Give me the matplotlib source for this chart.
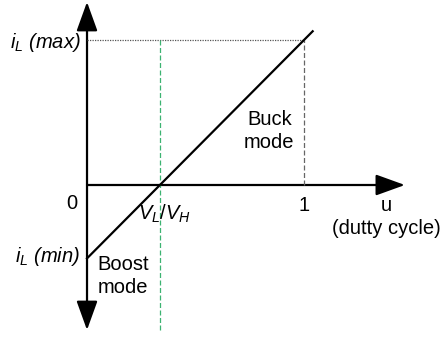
import matplotlib.pyplot as plt
from matplotlib.patches import FancyArrowPatch

plt.rcParams['font.family'] = ['Liberation Sans', 'DejaVu Sans']
plt.rcParams['mathtext.fontset'] = 'custom'
plt.rcParams['mathtext.it'] = 'Liberation Sans:italic'
plt.rcParams['mathtext.rm'] = 'Liberation Sans'

# duty cycle values and inductor current (normalised)
u_ratio = 0.336          # V_L / V_H
u_line = [0.0, 1.04]
i_max = 1.0
i_line = [(u - u_ratio) / (1 - u_ratio) * i_max for u in u_line]
i_min = i_line[0]

fig = plt.figure(figsize=(4.43, 3.37), dpi=100)
ax = fig.add_axes([0, 0, 1, 1])
ax.set_xlim(-0.401, 1.6406)
ax.set_ylim(-1.0483, 1.2759)
ax.axis('off')

fs = 14.5

# axes with arrow heads
ya = FancyArrowPatch((0, -1.0), (0, 1.262), arrowstyle='<|-|>,head_length=18,head_width=6.5',
                     mutation_scale=1, shrinkA=0, shrinkB=0, color='black', lw=1.6)
ax.add_patch(ya)
xa = FancyArrowPatch((0, 0), (1.465, 0), arrowstyle='-|>,head_length=18,head_width=6.5',
                     mutation_scale=1, shrinkA=0, shrinkB=0, color='black', lw=1.6)
ax.add_patch(xa)

# guide lines
ax.plot([0, 1], [i_max, i_max], color='#555555', lw=0.9, ls=(0, (1, 1)))
ax.plot([1, 1], [0, i_max], color='#666666', lw=0.9, ls=(0, (4, 2)))
ax.plot([u_ratio, u_ratio], [-1.0, i_max], color='#3cb371', lw=0.9, ls=(0, (4, 2)))

# inductor current line
ax.plot(u_line, i_line, color='black', lw=1.6)

# labels
ax.text(-0.03, i_max - 0.02, r'$i_L$ (max)', ha='right', va='center', fontsize=fs, style='italic')
ax.text(-0.03, i_min + 0.01, r'$i_L$ (min)', ha='right', va='center', fontsize=fs, style='italic')
ax.text(-0.07, -0.13, '0', ha='center', va='center', fontsize=fs)
ax.text(u_ratio + 0.02, -0.2, r'$V_L/V_H$', ha='center', va='center', fontsize=fs, style='italic')
ax.text(0.05, -0.63, 'Boost\nmode', ha='left', va='center', fontsize=fs, linespacing=1.25)
ax.text(0.84, 0.37, 'Buck\nmode', ha='center', va='center', fontsize=fs, linespacing=1.25)
ax.text(1.0, -0.14, '1', ha='center', va='center', fontsize=fs)
ax.text(1.38, -0.14, 'u', ha='center', va='center', fontsize=fs)
ax.text(1.38, -0.30, '(dutty cycle)', ha='center', va='center', fontsize=fs)

fig.savefig('out.png', dpi=100)
